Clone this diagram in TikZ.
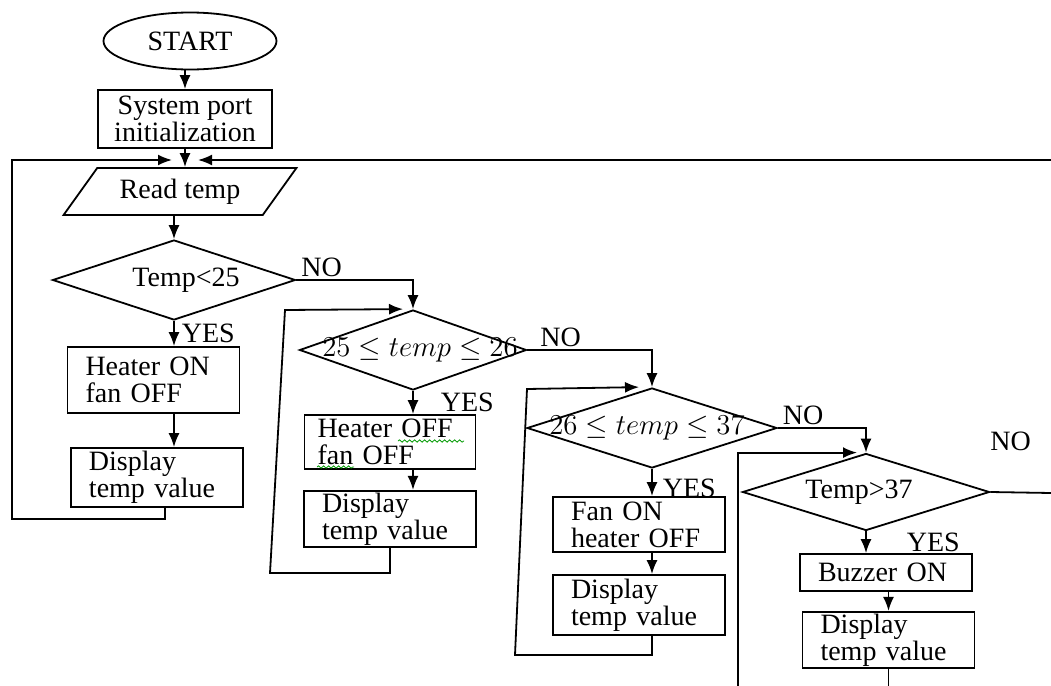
\documentclass[tikz,border=0pt]{standalone}
\usepackage{fontspec}
\setmainfont{Liberation Serif}
\usepackage{amsmath}
\usetikzlibrary{shapes.geometric,arrows.meta,decorations.pathmorphing}

\begin{document}
\begin{tikzpicture}[x=0.5pt,y=-0.5pt,
	font=\fontsize{14}{13.5}\selectfont,
	line width=0.9pt, >={Latex[length=7pt,width=5.5pt]},
	term/.style={draw,ellipse,minimum width=86.5pt,minimum height=28.5pt,inner sep=0pt},
	cbox/.style={draw,rectangle,align=center,minimum width=87pt,minimum height=29pt,inner sep=0pt},
	io/.style={draw,trapezium,trapezium left angle=46,trapezium right angle=134,trapezium stretches=true,minimum width=117.5pt,minimum height=23.5pt,inner sep=0pt},
	dec/.style={draw,diamond,inner sep=0pt},
	box/.style={draw,rectangle,align=left,inner xsep=9pt,inner ysep=1pt,text width=68pt},
	lbl/.style={inner sep=0pt},
	nolbl/.style={anchor=south west,inner sep=1pt},
	spell/.style={draw=green!60!black,line width=0.4pt,decorate,decoration={snake,amplitude=0.6pt,segment length=2.5pt}}]
	\useasboundingbox (0,0) rectangle (1051,686);

	\node[term] (start) at (190,41) {START};
	\node[cbox] (init) at (185,119) {System port\\initialization};
	\node[io] (read) at (180,191.5) {Read temp};
	\node[dec,minimum width=121.5pt,minimum height=40pt] (d1) at (174,280) {\makebox[0pt]{\hspace{12pt}Temp<25}};
	\node[box,minimum height=33pt] (box1) at (153.5,380) {Heater ON\\fan OFF};
	\node[box,minimum height=29.5pt] (disp1) at (157,477.5) {Display\\temp value};

	\node[dec,minimum width=113.5pt,minimum height=40pt] (d2) at (413,350) {\makebox[0pt]{\hspace{7pt}$25\leq temp\leq 26$}};
	\node[box,inner xsep=6.5pt,text width=72.5pt,minimum height=27pt] (box2) at (390,442) {Heater OFF\\fan OFF};
	\node[box,minimum height=26pt] (disp2) at (390,519) {Display\\temp value};

	\node[dec,minimum width=125pt,minimum height=40pt] (d3) at (652,428) {\makebox[0pt]{\hspace{-5pt}$26\leq temp\leq 37$}};
	\node[box,minimum height=27.5pt] (box3) at (639,524.5) {Fan ON\\heater OFF};
	\node[box,minimum height=30pt] (disp3) at (639,605) {Display\\temp value};

	\node[dec,minimum width=123.5pt,minimum height=38.5pt] (d4) at (866,492) {\makebox[0pt]{\hspace{-7pt}Temp>37}};
	\node[box,minimum height=18.5pt,inner ysep=0pt] (box4) at (886,572.5) {Buzzer ON};
	\node[box,minimum height=27pt] (disp4) at (888.5,640) {Display\\temp value};

	\coordinate (inl) at (172,160);
	\coordinate (inr) at (198,160);
	\coordinate (rin) at (1051,160);
	\coordinate (rout) at (1051,493);
	\coordinate (bl) at (738,686);
	\coordinate (br) at (890,686);

	\draw[->] (start.south -| init.north) -- (init.north);
	\draw[->] (init.south) -- (init.south |- read.north);
	\draw[->] (d1.north |- read.south) -- (d1.north);

	\draw[->] (d1.south) -- (d1.south |- box1.north) node[lbl,midway,right=3.5pt] {YES};
	\draw[->] (d1.south |- box1.south) -- (d1.south |- disp1.north);
	\draw[->] ([xshift=4pt]disp1.south) |- (12,519) |- (inl);
	\draw[->] (rin) -- (inr);

	\draw[->] (d1.east) node[nolbl,xshift=1pt] {NO} -| (d2.north);
	\draw[->] (d2.south) -- (d2.south |- box2.north) node[lbl,midway,right=13.5pt] {YES};
	\draw[->] (d2.south |- box2.south) -- (d2.south |- disp2.north);
	\draw[->] (disp2.south) |- (270,573) -- (285,310) -- ([xshift=-5pt]d2.north);

	\draw[->] (d2.east) node[nolbl,xshift=5pt] {NO} -| (d3.north);
	\draw[->] (d3.south) -- (d3.south |- box3.north) node[lbl,pos=0.7,right=5pt] {YES};
	\draw[->] (d3.south |- box3.south) -- (d3.south |- disp3.north);
	\draw[->] (d3.south |- disp3.south) |- (515,655) -- (527,389) -- ([xshift=-6.5pt]d3.north);

	\draw[->] (d3.east) node[nolbl,xshift=1pt] {NO} -| (d4.north);
	\draw[->] (d4.south) -- (d4.south |- box4.north) node[lbl,midway,right=20pt] {YES};
	\draw[->] (disp4.north |- box4.south) -- (disp4.north);
	\draw (disp4.south) -- (disp4.south |- br);
	\draw[->] (bl) |- ([xshift=-4.5pt]d4.north);
	\draw (d4.east) node[nolbl,xshift=-1.5pt,yshift=19pt] {NO} -- (rout);

	\draw[spell] (398,441) -- (464,441);
	\draw[spell] (317,467) -- (354,467);
\end{tikzpicture}
\end{document}
